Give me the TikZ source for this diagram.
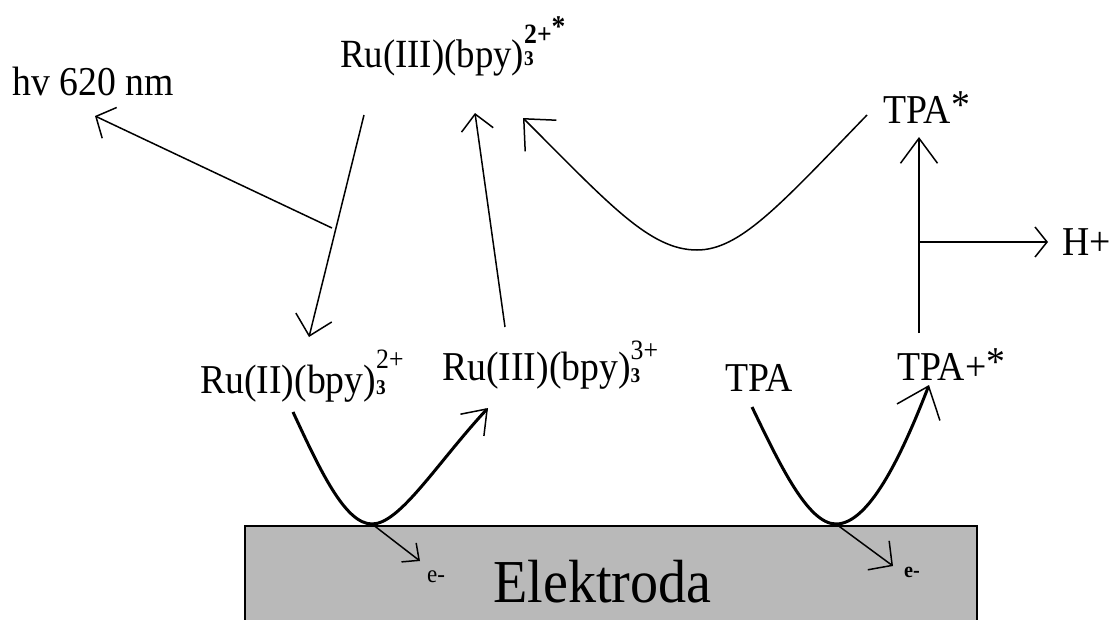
\documentclass[tikz,border=0pt]{standalone}
\usepackage{fontspec}
\setmainfont[FakeStretch=0.92]{Liberation Serif}
\usetikzlibrary{arrows.meta}
\definecolor{elgray}{RGB}{185,185,185}
\newcommand{\lbl}{\fontsize{41}{45}\selectfont}
\newcommand{\subfs}{\fontsize{21}{21}\selectfont\bfseries}
\newcommand{\supfs}{\fontsize{28}{28}\selectfont}
\newcommand{\hstar}{\raisebox{5pt}{*}}
\begin{document}
\begin{tikzpicture}[x=1pt,y=-1pt,
  txt/.style={anchor=base west,inner sep=0pt,font=\lbl},
  thin/.style={line width=1.5pt},
  thick/.style={line width=3pt},
  barb/.style 2 args={-{Straight Barb[length=#1,width=#2,line width=1.5pt]}}]
\useasboundingbox (0,0) rectangle (1112,619);
% electrode
\draw[line width=2.5pt,fill=elgray] (245,640) -- (245,526) -- (977,526) -- (977,640);
\node[txt,font=\fontsize{61}{65}\selectfont] (elek) at (493,602) {Elektroda};
% labels
\node[txt] (hv) at (12,95) {hv 620 nm};
\node[txt,font=\fontsize{40}{44}\selectfont] (ru3s) at (340,67) {Ru(III)(bpy)\makebox[0pt][l]{\raisebox{2pt}{\subfs 3}}\raisebox{24pt}{\supfs\bfseries 2+}\raisebox{31pt}{\fontsize{30}{30}\selectfont\bfseries *}};
\node[txt] (ru2) at (200,393) {Ru(II)(bpy)\makebox[0pt][l]{\raisebox{-1pt}{\subfs 3}}\raisebox{25pt}{\supfs 2+}};
\node[txt] (ru3) at (442,380) {Ru(III)(bpy)\makebox[0pt][l]{\raisebox{-2pt}{\subfs 3}}\raisebox{21pt}{\supfs 3+}};
\node[txt] (tpa) at (725,391) {TPA};
\node[txt] (tpap) at (897,380) {TPA+\hstar};
\node[txt] (tpas) at (883,123) {TPA\hstar};
\node[txt] (hplus) at (1062,255) {H+};
\node[txt,font=\fontsize{25}{25}\selectfont] (e1) at (427,582) {e-};
\node[txt,font=\fontsize{22}{22}\selectfont\bfseries] (e2) at (904,577) {e-};
% connector ends
\coordinate (ru3s-out) at (364,115);
\coordinate (ru2-in) at (309,337);
\coordinate (junc) at (332,228);
\coordinate (hv-in) at (95,116);
\coordinate (ru3-out) at (505,327);
\coordinate (ru3s-in) at (475,113);
\coordinate (ru3s-in2) at (523,118);
\coordinate (tpas-out) at (867,115);
\coordinate (ru2-out) at (293,412);
\coordinate (ru3-in) at (488,408);
\coordinate (bot1) at (372,524);
\coordinate (e1-in) at (420,561);
\coordinate (tpa-out) at (752,407);
\coordinate (tpap-in) at (929,385);
\coordinate (bot2) at (836,524);
\coordinate (e2-in) at (893,566);
\coordinate (tpap-out) at (919,333);
\coordinate (tpas-in) at (919,137);
\coordinate (hjunc) at (919,242);
\coordinate (hplus-in) at (1048,242);
% arrows
\draw[thin,barb={19pt}{37pt}] (ru3s-out) -- (ru2-in);
\draw[thin,barb={15pt}{34pt}] (junc) -- (hv-in);
\draw[thin,barb={16pt}{32pt}] (ru3-out) -- (ru3s-in);
\draw[thin,barb={24pt}{44pt}] (tpas-out) .. controls (780,205) and (740,250) .. (697,250)
   .. controls (650,250) and (610,205) .. (ru3s-in2);
\draw[thick,barb={22pt}{32pt}] (ru2-out) .. controls (320,470) and (345,524) .. (bot1)
   .. controls (400,524) and (437,463) .. (ru3-in);
\draw[thick,barb={28pt}{46pt}] (tpa-out) .. controls (780,465) and (808,524) .. (bot2)
   .. controls (868,524) and (900,460) .. (tpap-in);
\draw[thin,barb={13pt}{24pt}] (bot1) -- (e1-in);
\draw[thin,barb={17pt}{36pt}] (bot2) -- (e2-in);
\draw[thin,barb={25pt}{37pt}] (tpap-out) -- (tpas-in);
\draw[thin,barb={12pt}{30pt}] (hjunc) -- (hplus-in);
\end{tikzpicture}
\end{document}
